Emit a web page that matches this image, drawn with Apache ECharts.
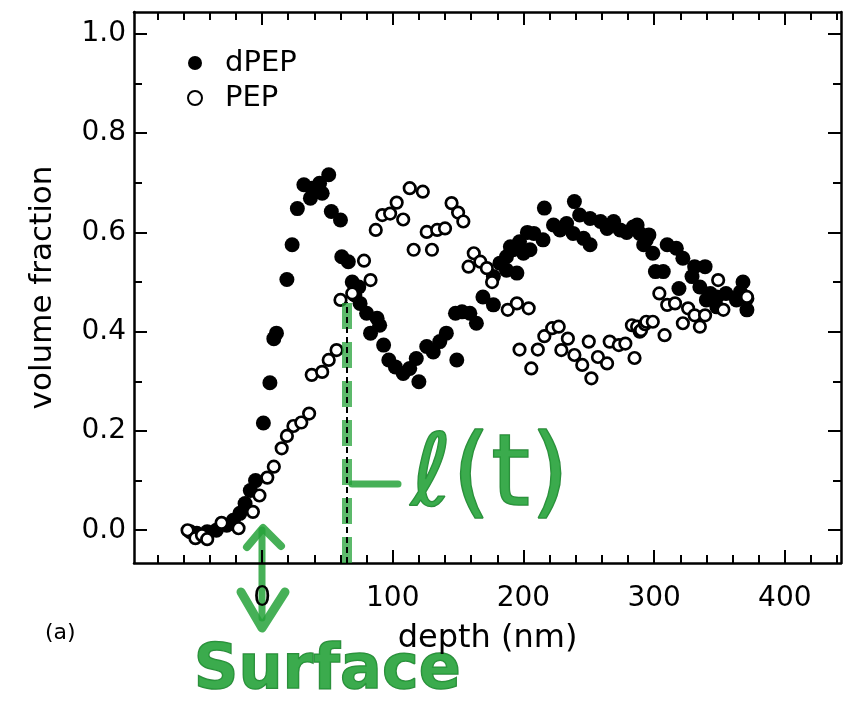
<!DOCTYPE html>
<html>
<head>
<meta charset="utf-8">
<script src="https://cdn.jsdelivr.net/npm/echarts@6/dist/echarts.min.js"></script>
<style>
html,body{margin:0;padding:0;background:#fff;}
#chart{width:851px;height:712px;}
</style>
</head>
<body>
<div id="chart"></div>
<script>
// ---- data (depth in nm, volume fraction) ----
const dpepDepth = [-55,-50,-42,-35,-27,-22,-17,-13,-9,-5,1,6,9,11,19,23,27,32,37,38,44,46,51,53,60,61,66,69,71,74,75,80,83,88,90,93,97,102,108,113,118,120,126,131,136,141,148,149,153,159,164,169,177,177,182,187,187,190,192,195,197,200,203,205,208,215,216,223,228,233,238,239,243,246,251,251,259,264,269,274,279,284,287,289,292,294,296,299,301,307,310,317,319,322,329,331,335,339,340,343,348,348,355,363,366,368,371,371];
const dpepFrac  = [-0.003,-0.006,-0.003,0.000,0.010,0.020,0.034,0.054,0.080,0.100,0.216,0.297,0.386,0.397,0.505,0.575,0.648,0.696,0.669,0.689,0.699,0.679,0.716,0.642,0.625,0.551,0.541,0.500,0.474,0.490,0.457,0.437,0.397,0.427,0.413,0.373,0.343,0.329,0.316,0.326,0.346,0.299,0.370,0.359,0.380,0.397,0.437,0.343,0.440,0.437,0.417,0.470,0.454,0.511,0.538,0.524,0.551,0.571,0.565,0.518,0.581,0.558,0.600,0.565,0.598,0.585,0.649,0.615,0.605,0.618,0.598,0.662,0.635,0.588,0.628,0.575,0.622,0.608,0.622,0.605,0.600,0.611,0.615,0.598,0.575,0.585,0.595,0.558,0.521,0.521,0.575,0.568,0.487,0.548,0.511,0.531,0.490,0.531,0.464,0.477,0.470,0.450,0.477,0.464,0.480,0.500,0.467,0.444];

const pepDepth = [-57,-51,-46,-42,-31,-18,-7,-2,4,9,15,19,24,30,36,38,46,51,57,60,69,78,83,87,92,98,103,108,113,116,123,126,130,134,140,145,150,154,158,162,167,172,176,188,195,197,204,206,211,216,222,227,229,234,239,245,250,252,257,264,266,273,278,283,285,287,289,290,293,294,299,304,308,310,316,322,326,331,335,339,349,353,371];
const pepFrac  = [0.000,-0.016,-0.010,-0.018,0.015,0.004,0.037,0.070,0.106,0.128,0.165,0.190,0.210,0.217,0.235,0.313,0.319,0.343,0.363,0.464,0.477,0.543,0.504,0.605,0.635,0.638,0.660,0.626,0.689,0.565,0.682,0.601,0.565,0.605,0.608,0.659,0.640,0.622,0.531,0.558,0.541,0.528,0.500,0.444,0.457,0.364,0.447,0.326,0.364,0.391,0.407,0.410,0.363,0.386,0.353,0.333,0.380,0.306,0.349,0.336,0.380,0.373,0.376,0.413,0.347,0.410,0.400,0.403,0.415,0.420,0.420,0.477,0.393,0.454,0.457,0.417,0.447,0.433,0.410,0.433,0.504,0.444,0.470];

// ---- axes / ticks ----
const xMin = -98, xMax = 443;
const yMin = -0.066, yMax = 1.044;
const xLabelTicks = [0, 100, 200, 300, 400];
const xMinorTicks = [-80,-60,-40,-20,20,40,60,80,120,140,160,180,220,240,260,280,320,340,360,380,420,440];
const yLabelTicks = [0, 0.2, 0.4, 0.6, 0.8, 1.0];
const yMinorTicks = [0.1, 0.3, 0.5, 0.7, 0.9];
const interfaceDepth = 65;      // dashed line l(t)
const interfaceTop = 0.46;

const seriesNames = ['dPEP', 'PEP'];
const FONT = 'DejaVu Sans';
const GREEN = '#26a23a';

const gridBox = {left: 134, right: 10, top: 12, bottom: 149};

function xAxisCfg(gridIndex, position, ticks, len, main) {
  return {
    type: 'value', gridIndex, position, min: xMin, max: xMax,
    axisLine: {show: main, onZero: false, lineStyle: {color: '#000', width: 2.5}},
    axisTick: {show: true, inside: true, length: len, customValues: ticks, lineStyle: {color: '#000', width: 2}},
    axisLabel: main && position === 'bottom' ? {
      show: true, customValues: xLabelTicks, margin: 22, color: '#000', fontSize: 28, fontFamily: FONT,
      formatter: v => String(Math.round(v))
    } : {show: false},
    splitLine: {show: false},
    name: main && position === 'bottom' ? 'depth (nm)' : '',
    nameLocation: 'middle', nameGap: 60,
    nameTextStyle: {color: '#000', fontSize: 32, fontFamily: FONT}
  };
}
function yAxisCfg(gridIndex, position, ticks, len, main) {
  return {
    type: 'value', gridIndex, position, min: yMin, max: yMax,
    axisLine: {show: main, onZero: false, lineStyle: {color: '#000', width: 2.5}},
    axisTick: {show: true, inside: true, length: len, customValues: ticks, lineStyle: {color: '#000', width: 2}},
    axisLabel: main && position === 'left' ? {
      show: true, customValues: yLabelTicks, margin: 8, color: '#000', fontSize: 28, fontFamily: FONT,
      formatter: v => v.toFixed(1)
    } : {show: false},
    splitLine: {show: false},
    name: main && position === 'left' ? 'volume fraction' : '',
    nameLocation: 'middle', nameGap: 76, nameRotate: 90,
    nameTextStyle: {color: '#000', fontSize: 31, fontFamily: FONT}
  };
}

const chart = echarts.init(document.getElementById('chart'), null, {renderer: 'canvas'});

const option = {
  backgroundColor: '#ffffff',
  animation: false,
  grid: [Object.assign({}, gridBox), Object.assign({}, gridBox)],
  xAxis: [
    xAxisCfg(0, 'bottom', xLabelTicks, 13, true),
    xAxisCfg(0, 'top', xLabelTicks, 13, true),
    xAxisCfg(1, 'bottom', xMinorTicks, 8, false),
    xAxisCfg(1, 'top', xMinorTicks, 8, false)
  ],
  yAxis: [
    yAxisCfg(0, 'left', yLabelTicks, 13, true),
    yAxisCfg(0, 'right', yLabelTicks, 13, true),
    yAxisCfg(1, 'left', yMinorTicks, 8, false),
    yAxisCfg(1, 'right', yMinorTicks, 8, false)
  ],
  legend: {
    orient: 'vertical', left: 182, top: 43,
    itemWidth: 50, itemHeight: 14, itemGap: 5,
    textStyle: {fontSize: 29, fontFamily: FONT, color: '#000', lineHeight: 30},
    data: seriesNames
  },
  series: [
    {
      name: seriesNames[0], type: 'scatter', xAxisIndex: 0, yAxisIndex: 0,
      symbol: 'circle', symbolSize: 15,
      itemStyle: {color: '#000', opacity: 1},
      emphasis: {disabled: true},
      data: dpepDepth.map((d, i) => [d, dpepFrac[i]]),
      markLine: {
        silent: true, symbol: 'none', label: {show: false},
        data: [
          [{coord: [interfaceDepth, yMin], lineStyle: {color: GREEN, width: 10, type: [26, 13], opacity: 0.75}},
           {coord: [interfaceDepth, interfaceTop]}],
          [{coord: [interfaceDepth, yMin], lineStyle: {color: '#000', width: 2, type: [6, 4], opacity: 1}},
           {coord: [interfaceDepth, interfaceTop]}]
        ]
      }
    },
    {
      name: seriesNames[1], type: 'scatter', xAxisIndex: 0, yAxisIndex: 0,
      symbol: 'circle', symbolSize: 11.5,
      itemStyle: {color: '#fff', borderColor: '#000', borderWidth: 2.7, opacity: 1},
      emphasis: {disabled: true},
      data: pepDepth.map((d, i) => [d, pepFrac[i]])
    }
  ],
  graphic: [
    {type: 'text', left: 45, top: 622, style: {text: '(a)', fontSize: 22, fontFamily: FONT, fill: '#000'}},
    // l(t) annotation
    {type: 'line', shape: {x1: 352, y1: 484, x2: 398, y2: 484}, style: {stroke: GREEN, lineWidth: 7, lineCap: 'round', opacity: 0.85}},
    {type: 'text', left: 410, top: 428, style: {text: 'ℓ(t)', fontSize: 100, fontFamily: FONT, fill: GREEN, stroke: '#1a7a2a', lineWidth: 1.5, opacity: 0.9}},
    // Surface arrow
    {type: 'line', shape: {x1: 262, y1: 530, x2: 262, y2: 618}, style: {stroke: GREEN, lineWidth: 7, lineCap: 'round', opacity: 0.85}},
    {type: 'polyline', shape: {points: [[247, 547], [263, 528], [281, 546]]}, style: {stroke: GREEN, lineWidth: 8, lineCap: 'round', lineJoin: 'round', fill: null, opacity: 0.85}},
    {type: 'polyline', shape: {points: [[241, 592], [262, 628], [285, 592]]}, style: {stroke: GREEN, lineWidth: 9, lineCap: 'round', lineJoin: 'round', fill: null, opacity: 0.85}},
    {type: 'text', left: 193, top: 640, style: {text: 'Surface', fontSize: 62, fontWeight: 'bold', fontFamily: FONT, fill: GREEN, stroke: '#1a7a2a', lineWidth: 1.5, opacity: 0.9}}
  ]
};
chart.setOption(option);
</script>
</body>
</html>
